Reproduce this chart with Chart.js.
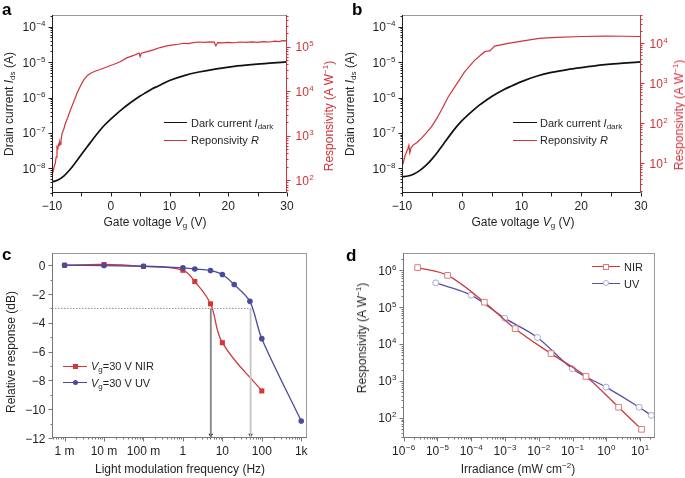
<!DOCTYPE html>
<html>
<head>
<meta charset="utf-8">
<script src="https://cdn.jsdelivr.net/npm/chart.js@4.4.1/dist/chart.umd.min.js"></script>
<style>
  body { margin: 0; background: #fff; }
  #wrap { position: relative; width: 685px; height: 478px; overflow: hidden; font-family: "Liberation Sans", Arial, sans-serif; color: #231f20; }
  canvas { position: absolute; }
  .vt { position: absolute; white-space: nowrap; font-size: 12px; line-height: 14px; transform: translate(-50%, -50%) rotate(-90deg); }
  .ht { position: absolute; white-space: nowrap; font-size: 12px; line-height: 14px; transform: translate(-50%, -50%); }
  .letter { position: absolute; font-weight: bold; font-size: 17px; line-height: 17px; color: #000; }
  .leg { position: absolute; white-space: nowrap; font-size: 11px; line-height: 12px; }
  .ln { position: absolute; height: 0; }
  .mk { position: absolute; box-sizing: border-box; }
  sub { font-size: 8px; vertical-align: -2px; line-height: 0; }
  sup { font-size: 8px; vertical-align: 5px; line-height: 0; }
  .red { color: #d2323a; }
</style>
</head>
<body>
<div id="wrap">
  <canvas id="chartA" width="342" height="240" style="left:0;top:0"></canvas>
  <canvas id="chartB" width="343" height="240" style="left:342px;top:0"></canvas>
  <canvas id="chartC" width="342" height="238" style="left:0;top:240px"></canvas>
  <canvas id="chartD" width="343" height="238" style="left:342px;top:240px"></canvas>

  <div class="letter" style="left:2px;top:1px">a</div>
  <div class="letter" style="left:352px;top:1px">b</div>
  <div class="letter" style="left:2px;top:246px">c</div>
  <div class="letter" style="left:346px;top:247px">d</div>

  <!-- panel a text -->
  <div class="vt" style="left:9px;top:104px">Drain current <i>I</i><sub>ds</sub> (A)</div>
  <div class="vt red" style="left:329px;top:116px">Responsivity (A W<sup>−1</sup>)</div>
  <div class="ht" style="left:155px;top:222px">Gate voltage <i>V</i><sub>g</sub> (V)</div>
  <div class="ln" style="left:164px;top:122px;width:23px;border-top:1.5px solid #111"></div>
  <div class="leg" style="left:191px;top:117px">Dark current <i>I</i><sub>dark</sub></div>
  <div class="ln" style="left:164px;top:140px;width:23px;border-top:1.5px solid #d2323a"></div>
  <div class="leg" style="left:191px;top:134px">Reponsivity <i>R</i></div>

  <!-- panel b text -->
  <div class="vt" style="left:350px;top:104px">Drain current <i>I</i><sub>ds</sub> (A)</div>
  <div class="vt red" style="left:679px;top:115px">Responsivity (A W<sup>−1</sup>)</div>
  <div class="ht" style="left:523px;top:222px">Gate voltage <i>V</i><sub>g</sub> (V)</div>
  <div class="ln" style="left:513px;top:122px;width:24px;border-top:1.5px solid #111"></div>
  <div class="leg" style="left:540px;top:117px">Dark current <i>I</i><sub>dark</sub></div>
  <div class="ln" style="left:513px;top:140px;width:24px;border-top:1.5px solid #d2323a"></div>
  <div class="leg" style="left:540px;top:134px">Reponsivity <i>R</i></div>

  <!-- panel c text -->
  <div class="vt" style="left:11px;top:352px">Relative response (dB)</div>
  <div class="ht" style="left:180px;top:469px">Light modulation frequency (Hz)</div>
  <div class="ln" style="left:63px;top:365.5px;width:24px;border-top:1.3px solid #d2383a"></div>
  <div class="mk" style="left:72.5px;top:363.5px;width:5px;height:5px;background:#d2383a"></div>
  <div class="leg" style="left:91px;top:360px"><i>V</i><sub>g</sub>=30 V NIR</div>
  <div class="ln" style="left:63px;top:382px;width:24px;border-top:1.3px solid #4a4a9e"></div>
  <div class="mk" style="left:72.5px;top:380px;width:5px;height:5px;border-radius:50%;background:#4a4a9e"></div>
  <div class="leg" style="left:91px;top:377px"><i>V</i><sub>g</sub>=30 V UV</div>

  <!-- panel d text -->
  <div class="vt" style="left:362px;top:338px">Responsivity (A W<sup>−1</sup>)</div>
  <div class="ht" style="left:518px;top:469px">Irradiance (mW cm<sup>−2</sup>)</div>
  <div class="ln" style="left:592px;top:266px;width:28px;border-top:1.3px solid #c83c3c"></div>
  <div class="mk" style="left:603px;top:263.5px;width:6px;height:6px;background:#fff;border:1px solid #e07a7a"></div>
  <div class="leg" style="left:624px;top:261px">NIR</div>
  <div class="ln" style="left:592px;top:283px;width:28px;border-top:1.3px solid #5252a6"></div>
  <div class="mk" style="left:603px;top:280px;width:6px;height:6px;border-radius:50%;background:#fff;border:1px solid #a8a8d8"></div>
  <div class="leg" style="left:624px;top:277.5px">UV</div>
</div>

<script>
// ---- panel a : dark current and responsivity vs gate voltage ----
var vgDarkA = [-10, -9, -8, -7, -6, -5, -4, -3, -2, -1, 0, 1, 2, 3, 4, 5, 6, 7, 8, 10, 12.5, 15, 18, 21, 24, 27, 30];
var idsDarkA = [4.07e-9, 4.68e-9, 6.03e-9, 8.91e-9, 1.45e-8, 2.45e-8, 4.07e-8, 6.76e-8, 1.10e-7, 1.70e-7, 2.45e-7, 3.47e-7, 4.79e-7, 6.46e-7, 8.51e-7, 1.10e-6, 1.38e-6, 1.74e-6, 2.09e-6, 3.02e-6, 4.17e-6, 5.25e-6, 6.46e-6, 7.59e-6, 8.51e-6, 9.33e-6, 1.02e-5];
var vgRespA = [-10, -9.9, -9.8, -9.6, -9.44, -9.3, -9.15, -9.0, -8.9, -8.8, -8.7, -8.6, -8.47, -8.3, -8.0, -7.74, -7.3, -6.9, -6.3, -5.76, -5.2, -4.63, -4.0, -3.5, -2.6, -1.8, -0.7, 0.46, 1.6, 2.73, 3.8, 4.6, 4.82, 5.0, 5.2, 6.2, 7.25, 8.4, 9.52, 10.65, 11.5, 12.4, 13.2, 14.05, 15, 16, 17, 17.6, 17.9, 18.2, 19, 20, 21, 22, 23, 24, 25, 26, 27, 28, 28.6, 29.3, 30];
var respA = [130, 170, 160, 210, 240, 330, 560, 520, 640, 600, 720, 650, 800, 1120, 1400, 1860, 2600, 3700, 5800, 8900, 12800, 17800, 22400, 25100, 28500, 30900, 35000, 39800, 46000, 56200, 63000, 70000, 72400, 60000, 71500, 78000, 85100, 96000, 105000, 110000, 114000, 120000, 118000, 124000, 128000, 126000, 129000, 127000, 104000, 124000, 122000, 126000, 123000, 128000, 125000, 129000, 126000, 131000, 128000, 134000, 130000, 137000, 136000];

// ---- panel b ----
var vgDarkB = [-10, -9, -8, -7, -6, -5, -4, -3, -2, -1, 0, 1, 2, 3, 4, 5, 6, 7, 8, 10, 12.5, 15, 18, 21, 24, 27, 30];
var idsDarkB = [5.75e-9, 6.03e-9, 6.92e-9, 8.71e-9, 1.20e-8, 1.82e-8, 2.95e-8, 5.01e-8, 8.51e-8, 1.41e-7, 2.19e-7, 3.16e-7, 4.47e-7, 6.17e-7, 8.13e-7, 1.07e-6, 1.35e-6, 1.66e-6, 2.0e-6, 2.82e-6, 3.98e-6, 5.13e-6, 6.31e-6, 7.41e-6, 8.51e-6, 9.33e-6, 1.02e-5];
var vgRespB = [-10, -9.8, -9.55, -9.2, -9.0, -8.85, -8.7, -8.5, -8.16, -7.5, -6.75, -5.9, -5.08, -4.2, -3.4, -2.29, -1.17, 0.5, 2.18, 3.85, 4.5, 4.7, 5.5, 7.76, 10.55, 13, 15.86, 20, 24.2, 27, 30];
var respB = [8.9, 10, 14.5, 20, 23.4, 28, 18.2, 24, 28.2, 33, 41.7, 58, 81, 130, 214, 447, 813, 1950, 3800, 6170, 6500, 6460, 8510, 10000, 11700, 13200, 14100, 14800, 15100, 15000, 14800];

// ---- panel c : frequency response ----
var freqNIR = [0.001, 0.01, 0.1, 1, 2, 5, 10, 100];
var dbNIR = [0, 0.05, -0.08, -0.35, -1.13, -2.68, -5.38, -8.73];
var freqUV = [0.001, 0.01, 0.1, 1, 2, 5, 10, 20, 50, 100, 1000];
var dbUV = [0, -0.02, -0.07, -0.18, -0.26, -0.37, -0.64, -1.34, -2.51, -5.10, -10.82];
var cutoffDb = -3;
var cutoffFreq = [5.1, 52];
var arrowDb = -11.8;
var freqTickExp = [-3, -2, -1, 0, 1, 2, 3];
var freqTickText = ['1 m', '10 m', '100 m', '1', '10', '100', '1k'];

// ---- panel d : responsivity vs irradiance ----
var irrNIR = [2.6e-6, 2.0e-5, 2.45e-4, 2.0e-3, 0.023, 0.25, 2.3, 11];
var respNIR = [1.17e6, 7.2e5, 1.35e5, 2.6e4, 5500, 1320, 195, 49];
var irrUV = [8.9e-6, 1.0e-4, 9.8e-4, 9.1e-3, 0.098, 0.98, 9.3, 21.4];
var respUV = [4.5e5, 2.1e5, 5.0e4, 1.5e4, 2140, 680, 195, 117];

var FONT = '"Liberation Sans", Arial, sans-serif';
var RED = '#d2323a';
var INK = '#231f20';

function xy(xs, ys) {
    return xs.map(function(v, i) { return { x: v, y: ys[i] }; });
}

function isPow10(v) {
    var e = Math.log10(v);
    return Math.abs(e - Math.round(e)) < 1e-6;
}

function supLabel(v) {
    if (!isPow10(v)) return null;
    var e = Math.round(Math.log10(v));
    return ['10', (e < 0 ? '\u2212' : '') + Math.abs(e)];
}

function minus(v) {
    return (v < 0 ? '\u2212' : '') + Math.abs(v);
}

// 1..9 x 10^n ticks, no 1.5 steps
function logTicks(scale) {
    var lo = Math.floor(Math.log10(scale.min));
    var hi = Math.ceil(Math.log10(scale.max));
    var out = [];
    for (var e = lo; e <= hi; e++) {
        for (var m = 1; m < 10; m++) {
            var v = m * Math.pow(10, e);
            if (v >= scale.min && v <= scale.max) out.push({ value: v, major: m === 1 });
        }
    }
    scale.ticks = out;
}

function drawText(ctx, lab, x, y, align) {
    var base = typeof lab === 'string' ? lab : lab[0];
    var sup = typeof lab === 'string' ? '' : lab[1];
    ctx.font = '12px ' + FONT;
    var wb = ctx.measureText(base).width;
    var ws = 0;
    if (sup) {
        ctx.font = '8px ' + FONT;
        ws = ctx.measureText(sup).width + 0.5;
    }
    var w = wb + ws;
    var x0 = align === 'right' ? x - w : (align === 'center' ? x - w / 2 : x);
    ctx.textAlign = 'left';
    ctx.textBaseline = 'alphabetic';
    ctx.font = '12px ' + FONT;
    ctx.fillText(base, x0, y);
    if (sup) {
        ctx.font = '8px ' + FONT;
        ctx.fillText(sup, x0 + wb + 0.5, y - 5);
    }
}

// frame, axis lines, tick marks and tick labels
var axisDecor = {
    id: 'axisDecor',
    afterDraw: function(chart, args, opts) {
        var ctx = chart.ctx;
        var a = chart.chartArea;
        ctx.save();
        ctx.lineWidth = 1;
        ctx.strokeStyle = opts.frame;
        ctx.strokeRect(Math.round(a.left) + 0.5, Math.round(a.top) + 0.5, Math.round(a.right - a.left) - 1, Math.round(a.bottom - a.top) - 1);
        opts.axes.forEach(function(ax) {
            var s = chart.scales[ax.id];
            var side = s.position;
            var pos = side === 'left' ? Math.round(a.left) + 0.5 : (side === 'right' ? Math.round(a.right) - 0.5 : Math.round(a.bottom) - 0.5);
            ctx.strokeStyle = ax.line || ax.color;
            ctx.beginPath();
            if (side === 'bottom') {
                ctx.moveTo(a.left, pos); ctx.lineTo(a.right, pos);
            } else {
                ctx.moveTo(pos, a.top); ctx.lineTo(pos, a.bottom);
            }
            ctx.stroke();
            s.ticks.forEach(function(t) {
                var p = s.getPixelForValue(t.value);
                var len = ax.isMajor(t.value) ? 4 : 2;
                var q = Math.round(p) + 0.5;
                ctx.strokeStyle = ax.line || ax.color;
                ctx.beginPath();
                if (side === 'bottom') { ctx.moveTo(q, pos); ctx.lineTo(q, pos + len); }
                else if (side === 'left') { ctx.moveTo(pos, q); ctx.lineTo(pos - len, q); }
                else { ctx.moveTo(pos, q); ctx.lineTo(pos + len, q); }
                ctx.stroke();
                var lab = ax.label(t.value);
                if (!lab) return;
                ctx.fillStyle = ax.color;
                if (side === 'bottom') drawText(ctx, lab, p, pos + 17.5, 'center');
                else if (side === 'left') drawText(ctx, lab, pos - 7, p + 4.5, 'right');
                else drawText(ctx, lab, pos + 9, p + 4.5, 'left');
            });
        });
        ctx.restore();
    }
};

function fixWidth(w) { return function(s) { s.width = w; }; }
function fixHeight(h) { return function(s) { s.height = h; }; }

function baseOptions(pad) {
    return {
        responsive: false,
        animation: false,
        layout: { padding: pad },
        plugins: { legend: { display: false }, tooltip: { enabled: false } },
        elements: { point: { radius: 0 } }
    };
}

function hiddenScale(extra) {
    var s = { ticks: { display: false }, grid: { display: false, drawTicks: false }, border: { display: false } };
    for (var k in extra) s[k] = extra[k];
    return s;
}

function gatePanel(id, vgDark, idsDark, vgResp, resp, leftW, rightW, rMin, rMax) {
    var opt = baseOptions({ top: 15, left: 0, right: 0, bottom: 0 });
    opt.scales = {
        x: hiddenScale({ type: 'linear', min: -10, max: 30, ticks: { display: false, stepSize: 5, includeBounds: false }, afterFit: fixHeight(47) }),
        y: hiddenScale({ type: 'logarithmic', position: 'left', min: 2.0e-9, max: 2.15e-4, afterBuildTicks: logTicks, afterFit: fixWidth(leftW) }),
        y1: hiddenScale({ type: 'logarithmic', position: 'right', min: rMin, max: rMax, afterBuildTicks: logTicks, afterFit: fixWidth(rightW) })
    };
    opt.plugins.axisDecor = {
        frame: '#9a9a9a',
        axes: [
            { id: 'x', color: INK, isMajor: function() { return true; }, label: function(v) { return v % 10 === 0 ? minus(v) : null; } },
            { id: 'y', color: INK, isMajor: isPow10, label: supLabel },
            { id: 'y1', color: RED, isMajor: isPow10, label: supLabel }
        ]
    };
    return new Chart(document.getElementById(id), {
        type: 'line',
        data: {
            datasets: [
                { data: xy(vgResp, resp), yAxisID: 'y1', borderColor: RED, borderWidth: 1.2, tension: 0, pointRadius: 0 },
                { data: xy(vgDark, idsDark), yAxisID: 'y', borderColor: '#111', borderWidth: 1.7, cubicInterpolationMode: 'monotone', pointRadius: 0 }
            ]
        },
        options: opt,
        plugins: [axisDecor]
    });
}

gatePanel('chartA', vgDarkA, idsDarkA, vgRespA, respA, 52, 55, 51.8, 5.17e5);
gatePanel('chartB', vgDarkB, idsDarkB, vgRespB, respB, 60, 44, 1.8, 5.1e4);

// ---- panel c ----
(function() {
    var xMin = 4.8e-4, xMax = 1400;
    var opt = baseOptions({ top: 13, left: 0, right: 35, bottom: 0 });
    opt.scales = {
        x: hiddenScale({ type: 'logarithmic', min: xMin, max: xMax, afterBuildTicks: logTicks, afterFit: fixHeight(40) }),
        y: hiddenScale({ type: 'linear', min: -12, max: 0.85, ticks: { display: false, stepSize: 1, includeBounds: false }, afterFit: fixWidth(52) })
    };
    opt.plugins.axisDecor = {
        frame: '#9a9a9a',
        axes: [
            { id: 'x', color: INK, line: '#777', isMajor: isPow10, label: function(v) {
                if (!isPow10(v)) return null;
                var i = freqTickExp.indexOf(Math.round(Math.log10(v)));
                return i < 0 ? null : freqTickText[i];
            } },
            { id: 'y', color: INK, line: '#777', isMajor: function(v) { return Math.round(v) % 2 === 0; }, label: function(v) { return Math.round(v) % 2 === 0 ? minus(Math.round(v)) : null; } }
        ]
    };
    var guides = [
        { data: xy([xMin, cutoffFreq[1]], [cutoffDb, cutoffDb]), borderColor: '#8c8c8c', borderWidth: 1, borderDash: [1.5, 1.5], pointRadius: 0 },
        { data: xy([cutoffFreq[0], cutoffFreq[0]], [cutoffDb, -12]), borderColor: '#858585', borderWidth: 1.8, pointRadius: 0 },
        { data: xy([cutoffFreq[1], cutoffFreq[1]], [cutoffDb, -12]), borderColor: '#c4c4c4', borderWidth: 1.8, pointRadius: 0 },
        { data: xy(cutoffFreq, [arrowDb, arrowDb]), showLine: false, pointRadius: 2.6, pointStyle: 'triangle', rotation: 180, pointBackgroundColor: '#111', pointBorderColor: '#111', pointBorderWidth: 0 }
    ];
    new Chart(document.getElementById('chartC'), {
        type: 'line',
        data: {
            datasets: guides.concat([
                { data: xy(freqUV, dbUV), borderColor: '#4a4a9e', borderWidth: 1.3, tension: 0.3, pointRadius: 2.8, pointStyle: 'circle', pointBackgroundColor: '#4a4a9e', pointBorderWidth: 0 },
                { data: xy(freqNIR, dbNIR), borderColor: '#d2383a', borderWidth: 1.3, tension: 0.4, pointRadius: 3.6, pointStyle: 'rect', pointBackgroundColor: '#d2383a', pointBorderWidth: 0 }
            ])
        },
        options: opt,
        plugins: [axisDecor]
    });
})();

// ---- panel d ----
(function() {
    var opt = baseOptions({ top: 13, left: 0, right: 30, bottom: 0 });
    opt.scales = {
        x: hiddenScale({ type: 'logarithmic', min: 9.6e-7, max: 27.5, afterBuildTicks: logTicks, afterFit: fixHeight(40) }),
        y: hiddenScale({ type: 'logarithmic', min: 28.6, max: 2.9e6, afterBuildTicks: logTicks, afterFit: fixWidth(61) })
    };
    opt.plugins.axisDecor = {
        frame: '#9a9a9a',
        axes: [
            { id: 'x', color: INK, line: '#777', isMajor: isPow10, label: supLabel },
            { id: 'y', color: INK, line: '#777', isMajor: isPow10, label: supLabel }
        ]
    };
    new Chart(document.getElementById('chartD'), {
        type: 'line',
        data: {
            datasets: [
                { data: xy(irrNIR, respNIR), borderColor: '#c83c3c', borderWidth: 1.3, cubicInterpolationMode: 'monotone', pointRadius: 4, pointStyle: 'rect', pointBackgroundColor: '#fff', pointBorderColor: '#e07a7a', pointBorderWidth: 1 },
                { data: xy(irrUV, respUV), borderColor: '#5252a6', borderWidth: 1.3, cubicInterpolationMode: 'monotone', pointRadius: 3, pointStyle: 'circle', pointBackgroundColor: '#fff', pointBorderColor: '#a8a8d8', pointBorderWidth: 1 }
            ]
        },
        options: opt,
        plugins: [axisDecor]
    });
})();
</script>
</body>
</html>
